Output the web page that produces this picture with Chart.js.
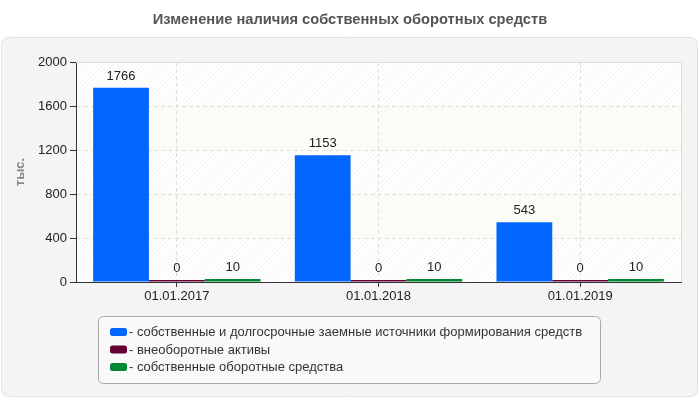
<!DOCTYPE html>
<html>
<head>
<meta charset="utf-8">
<script src="https://cdn.jsdelivr.net/npm/chart.js@4"></script>
<style>body{margin:0;background:#fff}</style>
</head>
<body>
<canvas id="chart" width="700" height="400"></canvas>
<script>
// data
const dates = ['01.01.2017', '01.01.2018', '01.01.2019'];
const ownLongTerm = [1766, 1153, 543];
const nonCurrent = [0, 0, 0];
const ownCurrent = [10, 10, 10];
const seriesNames = [
    'собственные и долгосрочные заемные источники формирования средств',
    'внеоборотные активы',
    'собственные оборотные средства'
];
const seriesColors = ['#0066ff', '#660033', '#008833'];
const titleText = 'Изменение наличия собственных оборотных средств';

const FONT = '"Liberation Sans", Arial, sans-serif';
Chart.defaults.font.family = FONT;
Chart.defaults.font.size = 13;
Chart.defaults.color = '#222';

// panel, title, plot background
const backdrop = {
    id: 'backdrop',
    beforeDraw(chart) {
        const ctx = chart.ctx, a = chart.chartArea, y = chart.scales.y;
        ctx.save();
        ctx.fillStyle = '#fff';
        ctx.fillRect(0, 0, chart.width, chart.height);
        ctx.font = 'bold 14.7px ' + FONT;
        ctx.fillStyle = '#555';
        ctx.textAlign = 'center';
        ctx.textBaseline = 'middle';
        ctx.fillText(titleText, chart.width / 2, 20);
        ctx.beginPath();
        ctx.roundRect(1.5, 37.5, 696, 359, 7);
        ctx.fillStyle = '#f4f4f4';
        ctx.fill();
        ctx.strokeStyle = '#e2e2e2';
        ctx.stroke();
        ctx.fillStyle = '#fff';
        ctx.fillRect(a.left, a.top, a.width, a.height);
        ctx.save();
        ctx.beginPath();
        ctx.rect(a.left, a.top, a.width, a.height);
        ctx.clip();
        ctx.strokeStyle = 'rgba(0,0,0,0.05)';
        ctx.lineWidth = 1;
        ctx.beginPath();
        for (let d = -a.height; d < a.width; d += 5) {
            ctx.moveTo(a.left + d, a.bottom);
            ctx.lineTo(a.left + d + a.height, a.top);
        }
        ctx.stroke();
        ctx.restore();
        ctx.fillStyle = '#fcfcf6';
        [[400, 800], [1200, 1600]].forEach(b => {
            const y1 = y.getPixelForValue(b[1]), y0 = y.getPixelForValue(b[0]);
            ctx.fillRect(a.left, y1, a.width, y0 - y1);
        });
        ctx.restore();
    },
    afterDraw(chart) {
        const ctx = chart.ctx, a = chart.chartArea;
        ctx.save();
        ctx.strokeStyle = '#dcdcdc';
        ctx.beginPath();
        ctx.moveTo(a.left, a.top + 0.5);
        ctx.lineTo(a.right + 0.5, a.top + 0.5);
        ctx.lineTo(a.right + 0.5, a.bottom);
        ctx.stroke();
        // legend
        ctx.beginPath();
        ctx.roundRect(98.5, 316.5, 502, 67, 5);
        ctx.fillStyle = '#f9f9f9';
        ctx.fill();
        ctx.strokeStyle = '#a8a8a8';
        ctx.stroke();
        ctx.font = '13px ' + FONT;
        ctx.textAlign = 'left';
        ctx.textBaseline = 'middle';
        chart.data.datasets.forEach((ds, i) => {
            const cy = 332 + i * 17.5;
            ctx.beginPath();
            ctx.roundRect(110, cy - 4, 17, 8, 2.5);
            ctx.fillStyle = ds.backgroundColor;
            ctx.fill();
            ctx.fillStyle = '#333';
            ctx.fillText('- ' + ds.label, 129, cy + 0.5);
        });
        ctx.restore();
    }
};

// value labels above bars
const valueLabels = {
    id: 'valueLabels',
    afterDatasetsDraw(chart) {
        const ctx = chart.ctx;
        ctx.save();
        ctx.font = '13px ' + FONT;
        ctx.fillStyle = '#222';
        ctx.textAlign = 'center';
        ctx.textBaseline = 'bottom';
        chart.data.datasets.forEach((ds, i) => {
            chart.getDatasetMeta(i).data.forEach((el, j) => {
                ctx.fillText(String(ds.data[j]), el.x, Math.min(el.y, el.base) - 5);
            });
        });
        ctx.restore();
    }
};

new Chart(document.getElementById('chart'), {
    type: 'bar',
    data: {
        labels: dates,
        datasets: [
            { label: seriesNames[0], data: ownLongTerm, backgroundColor: seriesColors[0], clip: 0 },
            { label: seriesNames[1], data: nonCurrent, backgroundColor: seriesColors[1], minBarLength: 2, clip: 0 },
            { label: seriesNames[2], data: ownCurrent, backgroundColor: seriesColors[2], minBarLength: 3, clip: 0 }
        ]
    },
    options: {
        responsive: false,
        animation: false,
        categoryPercentage: 0.83,
        barPercentage: 1,
        layout: { padding: { top: 62, right: 19, left: 0, bottom: 0 } },
        scales: {
            x: {
                afterFit: s => { s.height = 118; },
                grid: { offset: false, color: '#dedede', tickColor: '#333', tickLength: 5 },
                border: { color: '#333', dash: [4, 3] },
                ticks: { color: '#222', padding: 2 }
            },
            y: {
                min: 0,
                max: 2000,
                afterFit: s => { s.width = 76; },
                grid: { color: '#dedede', tickColor: '#333', tickLength: 6 },
                border: { color: '#333', dash: [4, 3] },
                ticks: { stepSize: 400, color: '#222', padding: 3, format: { useGrouping: false } },
                title: {
                    display: true,
                    text: 'тыс.',
                    color: '#888',
                    font: { size: 13, weight: 'bold' },
                    padding: { top: 13, bottom: 0 }
                }
            }
        },
        plugins: {
            legend: { display: false },
            tooltip: { enabled: false }
        }
    },
    plugins: [backdrop, valueLabels]
});
</script>
</body>
</html>
